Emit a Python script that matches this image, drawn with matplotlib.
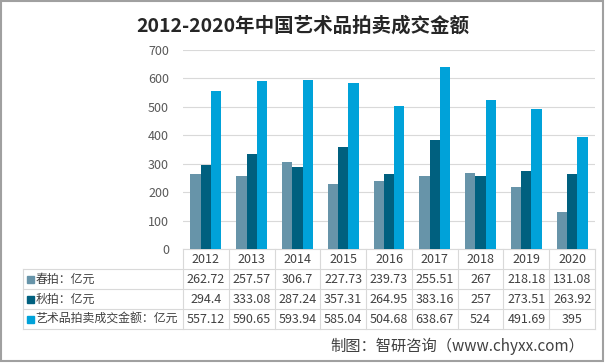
import matplotlib
matplotlib.use("Agg")
import matplotlib.pyplot as plt
from matplotlib.patches import Rectangle

plt.rcParams['font.family'] = ['Noto Sans CJK SC', 'DejaVu Sans']

years = ["2012", "2013", "2014", "2015", "2016", "2017", "2018", "2019", "2020"]
spring = [262.72, 257.57, 306.7, 227.73, 239.73, 255.51, 267, 218.18, 131.08]
autumn = [294.4, 333.08, 287.24, 357.31, 264.95, 383.16, 257, 273.51, 263.92]
total = [557.12, 590.65, 593.94, 585.04, 504.68, 638.67, 524, 491.69, 395]
spring_txt = ["262.72", "257.57", "306.7", "227.73", "239.73", "255.51", "267", "218.18", "131.08"]
autumn_txt = ["294.4", "333.08", "287.24", "357.31", "264.95", "383.16", "257", "273.51", "263.92"]
total_txt = ["557.12", "590.65", "593.94", "585.04", "504.68", "638.67", "524", "491.69", "395"]
series_names = ["春拍：亿元", "秋拍：亿元", "艺术品拍卖成交金额：亿元"]
colors = ["#6794A9", "#00607F", "#00A2D9"]
yticks = [0, 100, 200, 300, 400, 500, 600, 700]

W, H = 605, 363
fig = plt.figure(figsize=(W / 100, H / 100), dpi=100)

# overlay axes in pixel coords (for table, border)
ov = fig.add_axes([0, 0, 1, 1], zorder=0)
ov.set_xlim(0, W)
ov.set_ylim(H, 0)
ov.axis("off")

# main axes
x0, x1 = 183, 595
y_top, y_bot = 50, 249
ax = fig.add_axes([x0 / W, 1 - y_bot / H, (x1 - x0) / W, (y_bot - y_top) / H], zorder=2)
ax.patch.set_alpha(0)
n = len(years)
bw = 0.225
xs = list(range(n))
for k, (vals, c) in enumerate(zip([spring, autumn, total], colors)):
    ax.bar([x + (k - 1) * bw for x in xs], vals, width=bw, color=c, zorder=3)
ax.set_xlim(-0.5, n - 0.5)
ax.set_ylim(0, 700)
ax.set_yticks(yticks)
ax.set_yticklabels([str(t) for t in yticks], fontsize=9, color="#595959")
ax.tick_params(axis="y", length=0, pad=10)
ax.set_xticks([])
ax.grid(axis="y", color="#d9d9d9", linewidth=0.8, zorder=0)
for s in ax.spines.values():
    s.set_visible(False)

# table
line_c = "#d9d9d9"
cw = (x1 - x0) / n
rows_y = [249, 269, 289, 309, 329]
ov.plot([x0, x1], [249, 249], color=line_c, lw=0.8)
for yy in rows_y[1:]:
    ov.plot([23, x1], [yy, yy], color=line_c, lw=0.8)
for k in range(n + 1):
    xx = x0 + k * cw
    ov.plot([xx, xx], [249, 329], color=line_c, lw=0.8)
ov.plot([23, 23], [269, 329], color=line_c, lw=0.8)

for i, yv in enumerate(years):
    ov.text(x0 + (i + 0.5) * cw, 259.5, yv, ha="center", va="center", fontsize=9, color="#404040")
for r, (name, txts, c) in enumerate(zip(series_names, [spring_txt, autumn_txt, total_txt], colors)):
    cy = 279.5 + r * 20
    ov.add_patch(Rectangle((27, cy - 3.5), 7, 7, color=c))
    ov.text(35.5, cy, name, ha="left", va="center", fontsize=8.6, color="#404040")
    for i, t in enumerate(txts):
        ov.text(x0 + (i + 0.5) * cw, cy, t, ha="center", va="center", fontsize=9, color="#404040")

# title and footer
ov.text(303, 26, "2012-2020年中国艺术品拍卖成交金额", ha="center", va="center",
        fontsize=14, fontweight="bold", color="#262626")
ov.text(457, 346, "制图：智研咨询（www.chyxx.com）", ha="center", va="center",
        fontsize=11, color="#404040")

# border
ov.add_patch(Rectangle((0.8, 0.8), W - 3, H - 2.5, fill=False, edgecolor="#a0a0a0", lw=1.5))

fig.savefig("out.png", dpi=100)
